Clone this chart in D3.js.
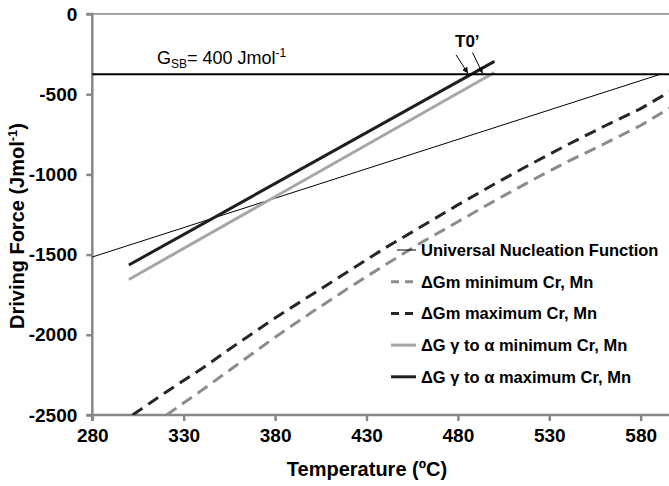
<!DOCTYPE html>
<html>
<head>
<meta charset="utf-8"/>
<script src="https://cdnjs.cloudflare.com/ajax/libs/d3/7.8.5/d3.min.js"></script>
<style>
  body { margin: 0; background: #fff; }
  text { font-family: Arial, "Liberation Sans", sans-serif; }
</style>
</head>
<body>
<script>
// chart data
const xTicks = [280, 330, 380, 430, 480, 530, 580];
const yTicks = [0, -500, -1000, -1500, -2000, -2500];

const solidTemps = [300, 500];
const gammaAlphaMax = [-1565, -295];
const gammaAlphaMin = [-1655, -365];

const universalTemps = [280, 591];
const universalValues = [-1515, -375];

const gsbTemps = [280, 596];
const gsbValues = [-375, -375];

const gmMaxTemps = [302, 320, 340, 360, 380, 400, 420, 440, 460, 480, 500, 520, 540, 560, 580, 596];
const gmMaxValues = [-2500, -2360, -2210, -2050, -1895, -1750, -1605, -1460, -1325, -1190, -1060, -935, -815, -700, -590, -484];

const gmMinTemps = [320.6, 340, 360, 380, 400, 420, 440, 460, 480, 500, 520, 540, 560, 580, 596];
const gmMinValues = [-2500, -2345, -2180, -2015, -1860, -1710, -1565, -1425, -1295, -1165, -1040, -920, -810, -695, -586];

const legendLabels = [
  'Universal Nucleation Function',
  'ΔGm minimum Cr, Mn',
  'ΔGm maximum Cr, Mn',
  'ΔG γ to α minimum Cr, Mn',
  'ΔG γ to α maximum Cr, Mn'
];

// T0' arrows: [tailT, tailG, tipT, tipG]
const t0Arrows = [[479, -255, 485.5, -370], [488, -240, 493.5, -370]];

const W = 669, H = 486;
const svg = d3.select('body').append('svg')
  .attr('width', W)
  .attr('height', H);

const x = d3.scaleLinear().domain([280, 595.5]).range([92.3, 669]);
const y = d3.scaleLinear().domain([-2500, 0]).range([415, 14]);

const defs = svg.append('defs');
defs.append('clipPath').attr('id', 'plot')
  .append('rect').attr('x', 92).attr('y', 0).attr('width', W - 92).attr('height', 415);
defs.append('marker')
  .attr('id', 'arr')
  .attr('viewBox', '0 0 10 10')
  .attr('refX', 10).attr('refY', 5)
  .attr('markerUnits', 'userSpaceOnUse')
  .attr('markerWidth', 6).attr('markerHeight', 6)
  .attr('orient', 'auto')
  .append('path').attr('d', 'M0,0 L10,5 L0,10 Z').attr('fill', '#000');

const axisGrey = '#878787';

// top line at zero
svg.append('line')
  .attr('x1', x(280)).attr('x2', W)
  .attr('y1', y(0)).attr('y2', y(0))
  .attr('stroke', axisGrey).attr('stroke-width', 1.5);

// axes
const xAxis = svg.append('g')
  .attr('transform', `translate(0,${y(-2500)})`)
  .call(d3.axisBottom(x).tickValues(xTicks).tickFormat(d => String(d)).tickSize(6).tickPadding(8));
const yAxis = svg.append('g')
  .attr('transform', `translate(${x(280)},0)`)
  .call(d3.axisLeft(y).tickValues(yTicks).tickFormat(d => String(d)).tickSize(6).tickPadding(9));

[xAxis, yAxis].forEach(g => {
  g.attr('font-size', null).attr('font-family', null);
  g.select('.domain').attr('stroke', axisGrey).attr('stroke-width', 2.5);
  g.selectAll('.tick line').attr('stroke', axisGrey).attr('stroke-width', 2.5);
  g.selectAll('.tick text')
    .attr('fill', '#000')
    .style('font-size', '19px')
    .style('font-weight', 'bold');
});
// x axis line runs to the right edge, y axis starts at top line
xAxis.select('.domain').attr('d', `M${x(280)},6V0H${W}`);
yAxis.select('.domain').attr('d', `M-6,${y(0)}H0V${y(-2500)}H-6`);

const line = d3.line().x(d => x(d[0])).y(d => y(d[1]));
const pairs = (ts, vs) => ts.map((t, i) => [t, vs[i]]);

const plot = svg.append('g').attr('clip-path', 'url(#plot)');

const styles = {
  universal: { stroke: '#000', width: 1, dash: null },
  gmMin: { stroke: '#8c8c8c', width: 3, dash: '12,7' },
  gmMax: { stroke: '#262626', width: 3, dash: '12,7' },
  gaMin: { stroke: '#a6a6a6', width: 3, dash: null },
  gaMax: { stroke: '#1f1f1f', width: 3, dash: null }
};

const series = [
  { key: 'gmMin', pts: pairs(gmMinTemps, gmMinValues) },
  { key: 'gmMax', pts: pairs(gmMaxTemps, gmMaxValues) },
  { key: 'universal', pts: pairs(universalTemps, universalValues) },
  { key: 'gaMin', pts: pairs(solidTemps, gammaAlphaMin) },
  { key: 'gaMax', pts: pairs(solidTemps, gammaAlphaMax) }
];

plot.selectAll('path.series')
  .data(series)
  .join('path')
  .attr('class', 'series')
  .attr('d', d => line(d.pts))
  .attr('fill', 'none')
  .attr('stroke', d => styles[d.key].stroke)
  .attr('stroke-width', d => styles[d.key].width)
  .attr('stroke-dasharray', d => styles[d.key].dash);

// G_SB line
plot.append('path')
  .attr('d', line(pairs(gsbTemps, gsbValues)))
  .attr('stroke', '#000').attr('stroke-width', 2).attr('fill', 'none');

// G_SB label
const gsb = svg.append('text')
  .attr('x', 157).attr('y', 64)
  .style('font-size', '18px');
gsb.append('tspan').text('G');
gsb.append('tspan').attr('dy', 4).style('font-size', '12px').text('SB');
gsb.append('tspan').attr('dy', -4).text('= 400 Jmol');
gsb.append('tspan').attr('dy', -7).style('font-size', '12px').text('-1');

// T0' label and arrows
svg.append('text')
  .attr('x', 455).attr('y', 47)
  .style('font-size', '17px').style('font-weight', 'bold')
  .text('T0’');
svg.selectAll('line.arrow')
  .data(t0Arrows)
  .join('line')
  .attr('class', 'arrow')
  .attr('x1', d => x(d[0])).attr('y1', d => y(d[1]))
  .attr('x2', d => x(d[2])).attr('y2', d => y(d[3]))
  .attr('stroke', '#000').attr('stroke-width', 1)
  .attr('marker-end', 'url(#arr)');

// legend
const legendKeys = ['universal', 'gmMin', 'gmMax', 'gaMin', 'gaMax'];
const legend = svg.append('g').attr('transform', 'translate(391,250)');
const item = legend.selectAll('g')
  .data(legendKeys)
  .join('g')
  .attr('transform', (d, i) => `translate(0,${i * 31.7})`);
item.append('line')
  .attr('x1', d => d === 'universal' ? 6 : 0).attr('x2', 25)
  .attr('y1', 0).attr('y2', 0)
  .attr('stroke', d => styles[d].stroke)
  .attr('stroke-width', d => styles[d].width)
  .attr('stroke-dasharray', d => styles[d].dash ? '8,6' : null);
item.append('text')
  .attr('x', 30).attr('y', 6)
  .style('font-size', '16.5px').style('font-weight', 'bold')
  .text((d, i) => legendLabels[i]);

// axis titles
svg.append('text')
  .attr('x', 367).attr('y', 476)
  .attr('text-anchor', 'middle')
  .style('font-size', '20px').style('font-weight', 'bold')
  .text('Temperature (ºC)');

const yt = svg.append('text')
  .attr('transform', 'translate(24,226) rotate(-90)')
  .attr('text-anchor', 'middle')
  .style('font-size', '20px').style('font-weight', 'bold');
yt.append('tspan').text('Driving Force (Jmol');
yt.append('tspan').attr('dy', -7).style('font-size', '13px').text('-1');
yt.append('tspan').attr('dy', 7).text(')');
</script>
</body>
</html>
